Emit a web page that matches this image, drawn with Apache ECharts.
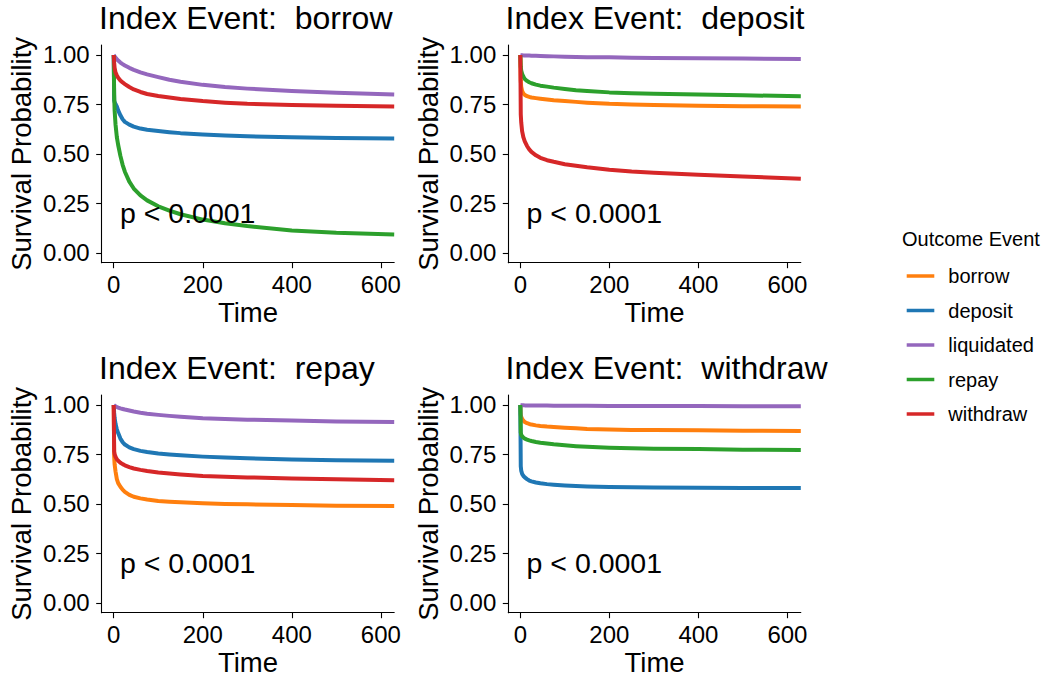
<!DOCTYPE html>
<html>
<head>
<meta charset="utf-8">
<script src="https://cdn.jsdelivr.net/npm/echarts@6/dist/echarts.min.js"></script>
<style>
html,body{margin:0;padding:0;background:#fff;}
#chart{width:1044px;height:677px;}
</style>
</head>
<body>
<div id="chart"></div>
<script>
// ---- data ----
const TIME = [0, 1, 2, 4, 7, 10, 15, 20, 25, 35, 45, 60, 75, 100, 125, 150, 200, 250, 300, 400, 500, 630];

// Index event: borrow
const B_deposit    = [1.0, 0.77, 0.762, 0.752, 0.74, 0.72, 0.695, 0.675, 0.662, 0.648, 0.638, 0.628, 0.622, 0.616, 0.61, 0.605, 0.598, 0.593, 0.589, 0.584, 0.581, 0.578];
const B_liquidated = [1.0, 0.997, 0.993, 0.987, 0.979, 0.972, 0.962, 0.954, 0.947, 0.935, 0.925, 0.912, 0.902, 0.888, 0.875, 0.865, 0.849, 0.838, 0.83, 0.818, 0.809, 0.80];
const B_repay      = [1.0, 0.80, 0.72, 0.65, 0.585, 0.545, 0.49, 0.445, 0.41, 0.36, 0.325, 0.29, 0.265, 0.235, 0.213, 0.195, 0.168, 0.149, 0.135, 0.113, 0.101, 0.092];
const B_withdraw   = [1.0, 0.96, 0.935, 0.912, 0.897, 0.885, 0.871, 0.861, 0.853, 0.838, 0.826, 0.813, 0.803, 0.793, 0.785, 0.778, 0.767, 0.759, 0.753, 0.747, 0.743, 0.739];

// Index event: deposit
const D_borrow     = [1.0, 0.87, 0.84, 0.818, 0.805, 0.798, 0.792, 0.788, 0.785, 0.782, 0.779, 0.775, 0.771, 0.767, 0.763, 0.759, 0.753, 0.75, 0.747, 0.743, 0.741, 0.74];
const D_liquidated = [1.0, 1.0, 0.999, 0.999, 0.998, 0.998, 0.997, 0.997, 0.996, 0.996, 0.995, 0.994, 0.993, 0.991, 0.99, 0.989, 0.988, 0.986, 0.985, 0.983, 0.982, 0.98];
const D_repay      = [1.0, 0.94, 0.922, 0.905, 0.89, 0.879, 0.869, 0.862, 0.857, 0.85, 0.845, 0.84, 0.835, 0.828, 0.822, 0.818, 0.811, 0.807, 0.804, 0.80, 0.796, 0.792];
const D_withdraw   = [1.0, 0.70, 0.66, 0.615, 0.583, 0.563, 0.54, 0.523, 0.51, 0.493, 0.48, 0.468, 0.46, 0.448, 0.44, 0.432, 0.42, 0.411, 0.405, 0.395, 0.386, 0.375];

// Index event: repay
const R_borrow     = [1.0, 0.74, 0.70, 0.665, 0.625, 0.605, 0.587, 0.572, 0.561, 0.546, 0.536, 0.528, 0.522, 0.515, 0.511, 0.508, 0.503, 0.50, 0.498, 0.494, 0.491, 0.489];
const R_deposit    = [1.0, 0.96, 0.935, 0.905, 0.877, 0.858, 0.83, 0.812, 0.80, 0.786, 0.777, 0.768, 0.762, 0.755, 0.75, 0.746, 0.739, 0.734, 0.731, 0.725, 0.721, 0.718];
const R_liquidated = [1.0, 0.998, 0.996, 0.993, 0.99, 0.987, 0.983, 0.98, 0.977, 0.972, 0.967, 0.961, 0.956, 0.95, 0.945, 0.941, 0.933, 0.929, 0.926, 0.921, 0.917, 0.914];
const R_withdraw   = [1.0, 0.765, 0.752, 0.738, 0.726, 0.718, 0.708, 0.701, 0.695, 0.686, 0.679, 0.672, 0.666, 0.659, 0.654, 0.649, 0.641, 0.637, 0.634, 0.629, 0.624, 0.62];

// Index event: withdraw
const W_borrow     = [1.0, 0.95, 0.94, 0.93, 0.92, 0.914, 0.908, 0.904, 0.901, 0.897, 0.894, 0.891, 0.889, 0.885, 0.882, 0.879, 0.876, 0.874, 0.873, 0.872, 0.87, 0.869];
const W_deposit    = [1.0, 0.69, 0.668, 0.652, 0.641, 0.634, 0.625, 0.618, 0.614, 0.608, 0.604, 0.60, 0.597, 0.593, 0.59, 0.588, 0.586, 0.584, 0.583, 0.582, 0.581, 0.58];
const W_liquidated = [1.0, 1.0, 0.999, 0.999, 0.999, 0.998, 0.998, 0.998, 0.998, 0.997, 0.997, 0.997, 0.996, 0.996, 0.996, 0.996, 0.995, 0.995, 0.995, 0.995, 0.994, 0.994];
const W_repay      = [1.0, 0.86, 0.85, 0.842, 0.835, 0.83, 0.825, 0.821, 0.818, 0.813, 0.809, 0.805, 0.801, 0.796, 0.792, 0.789, 0.784, 0.781, 0.779, 0.777, 0.774, 0.772];

const OUTCOMES = ['borrow', 'deposit', 'liquidated', 'repay', 'withdraw'];
const PANEL_TITLES = ['Index Event:  borrow', 'Index Event:  deposit', 'Index Event:  repay', 'Index Event:  withdraw'];
const PANEL_DATA = [
  {deposit: B_deposit, liquidated: B_liquidated, repay: B_repay, withdraw: B_withdraw},
  {borrow: D_borrow, liquidated: D_liquidated, repay: D_repay, withdraw: D_withdraw},
  {borrow: R_borrow, deposit: R_deposit, liquidated: R_liquidated, withdraw: R_withdraw},
  {borrow: W_borrow, deposit: W_deposit, liquidated: W_liquidated, repay: W_repay}
];
const X_TICKS = [0, 200, 400, 600];
const Y_TICKS = [0, 0.25, 0.5, 0.75, 1];
const PVAL_TEXT = 'p < 0.0001';
const PVAL_POS = [14, 0.2];
const X_TITLE = 'Time';
const Y_TITLE = 'Survival Probability';
const LEGEND_TITLE = 'Outcome Event';

// ---- styling / layout ----
const COLORS = {borrow: '#FF7F0E', deposit: '#1F77B4', liquidated: '#9467BD', repay: '#2CA02C', withdraw: '#D62728'};
const FONT = '"Liberation Sans", Arial, Helvetica, sans-serif';
const COL_LEFT = [101.7, 508.3];
const ROW_TOP = [45.1, 395.1];
const GW = 292.5, GH = 217.6;

const grids = [], xAxes = [], yAxes = [], series = [], graphics = [];
PANEL_TITLES.forEach((title, i) => {
  const L = COL_LEFT[i % 2], T = ROW_TOP[Math.floor(i / 2)];
  grids.push({left: L, top: T, width: GW, height: GH, containLabel: false, outerBoundsMode: 'none'});
  const axisLine = {show: true, onZero: false, lineStyle: {color: '#000', width: 1.1}};
  xAxes.push({
    gridIndex: i, type: 'value', min: -27, max: 630,
    axisLine: axisLine,
    axisTick: {show: true, inside: false, length: 5.5, customValues: X_TICKS, lineStyle: {color: '#000', width: 1.1}},
    axisLabel: {show: true, customValues: X_TICKS, fontSize: 24, color: '#000', fontFamily: FONT, margin: 9.5},
    splitLine: {show: false}
  });
  yAxes.push({
    gridIndex: i, type: 'value', min: -0.05, max: 1.05,
    axisLine: axisLine,
    axisTick: {show: true, inside: false, length: 5.5, customValues: Y_TICKS, lineStyle: {color: '#000', width: 1.1}},
    axisLabel: {show: true, customValues: Y_TICKS, fontSize: 24, color: '#000', fontFamily: FONT, margin: 12,
      formatter: v => Number(v).toFixed(2)},
    splitLine: {show: false}
  });
  OUTCOMES.forEach(name => {
    const vals = PANEL_DATA[i][name];
    if (!vals) return;
    series.push({
      type: 'line', name: name, xAxisIndex: i, yAxisIndex: i,
      data: TIME.map((t, k) => [t, vals[k]]),
      showSymbol: false, symbol: 'none', smooth: false,
      lineStyle: {width: 4, color: COLORS[name], join: 'round', cap: 'butt'}, itemStyle: {color: COLORS[name]},
      emphasis: {disabled: true}, silent: true, clip: true
    });
  });
  series.push({
    type: 'scatter', xAxisIndex: i, yAxisIndex: i, data: [PVAL_POS], symbolSize: 0, silent: true,
    itemStyle: {opacity: 1},
    label: {show: true, position: 'right', distance: 0, formatter: PVAL_TEXT, opacity: 1,
      fontSize: 28.5, color: '#000', fontFamily: FONT, textBorderWidth: 0},
    emphasis: {disabled: true},
    z: 3
  });
  graphics.push({type: 'text', x: L - 2.7, y: T - 27.3,
    style: {text: title, fontSize: 32, fontFamily: FONT, fill: '#000', align: 'left', verticalAlign: 'middle'}});
  graphics.push({type: 'text', x: L - 80.2, y: T + GH / 2, rotation: Math.PI / 2,
    style: {text: Y_TITLE, fontSize: 27.5, fontFamily: FONT, fill: '#000', align: 'center', verticalAlign: 'middle'}});
  graphics.push({type: 'text', x: L + GW / 2, y: T + 267,
    style: {text: X_TITLE, fontSize: 27.5, fontFamily: FONT, fill: '#000', align: 'center', verticalAlign: 'middle'}});
});
graphics.push({type: 'text', x: 902, y: 239,
  style: {text: LEGEND_TITLE, fontSize: 20, fontFamily: FONT, fill: '#000', align: 'left', verticalAlign: 'middle'}});

const chart = echarts.init(document.getElementById('chart'), null, {renderer: 'svg'});
chart.setOption({
  animation: false,
  backgroundColor: '#fff',
  grid: grids, xAxis: xAxes, yAxis: yAxes, series: series,
  legend: {
    data: OUTCOMES, orient: 'vertical', left: 906.7, top: 266, padding: 0,
    icon: 'rect', itemWidth: 27.6, itemHeight: 3.5, itemGap: 14.5,
    textStyle: {fontSize: 20, fontFamily: FONT, color: '#000', lineHeight: 20, padding: [0, 0, 0, 9]},
    selectedMode: false
  },
  graphic: graphics
});
</script>
</body>
</html>
